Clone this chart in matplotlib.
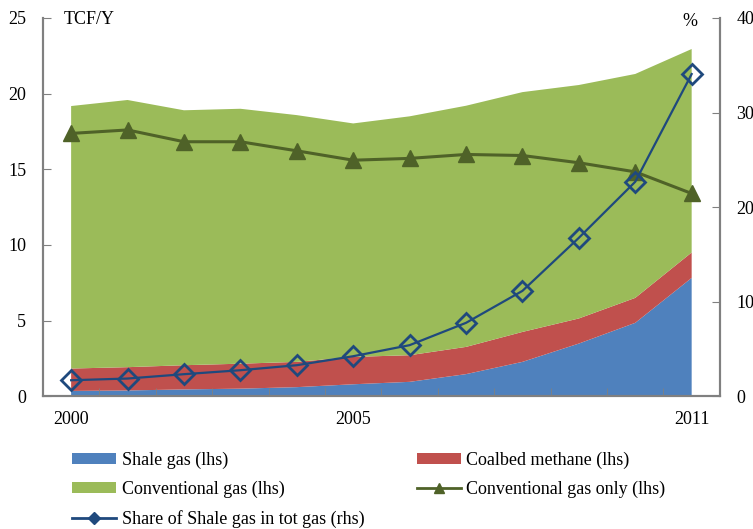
import matplotlib.pyplot as plt
import numpy as np
from matplotlib.ticker import FixedLocator, NullFormatter
from matplotlib.patches import Patch
from matplotlib.lines import Line2D

plt.rcParams['font.family'] = ['Liberation Serif', 'DejaVu Serif']

years = [2000, 2001, 2002, 2003, 2004, 2005, 2006, 2007, 2008, 2009, 2010, 2011]
shale = [0.35, 0.38, 0.45, 0.50, 0.60, 0.79, 0.95, 1.46, 2.27, 3.48, 4.85, 7.82]
coalbed = [1.48, 1.54, 1.60, 1.65, 1.67, 1.81, 1.76, 1.80, 1.98, 1.66, 1.65, 1.68]
conventional = [17.35, 17.66, 16.85, 16.85, 16.31, 15.43, 15.79, 15.94, 15.85, 15.43, 14.80, 13.45]
conv_only = [17.37, 17.60, 16.82, 16.82, 16.22, 15.60, 15.72, 15.98, 15.91, 15.43, 14.83, 13.40]
share = [1.69, 1.87, 2.33, 2.75, 3.28, 4.23, 5.40, 7.76, 11.14, 16.75, 22.68, 34.07]
tick_years = [2000, 2005, 2011]

c_blue = '#4F81BD'
c_red = '#C0504D'
c_green = '#9BBB59'
c_dkgreen = '#4F6228'
c_navy = '#1F497D'
c_spine = '#808080'

x = np.arange(len(years))
fs = 13

fig = plt.figure(figsize=(7.53, 5.29), dpi=100)
ax = fig.add_axes([0.057, 0.251, 0.899, 0.715])
ax2 = ax.twinx()

ax.stackplot(x, shale, coalbed, conventional, colors=[c_blue, c_red, c_green], lw=0)
ax.plot(x, conv_only, color=c_dkgreen, lw=2.2, marker='^', ms=11)
ax2.plot(x, share, color=c_navy, lw=1.6, marker='D', ms=10, mfc='none', mew=2)

ax.set_xlim(-0.5, len(years) - 0.5)
ax.set_ylim(0, 25)
ax2.set_ylim(0, 40)
ax.set_yticks([0, 5, 10, 15, 20, 25])
ax2.set_yticks([0, 10, 20, 30, 40])

ax.set_xticks([years.index(y) for y in tick_years])
ax.set_xticklabels([str(y) for y in tick_years])
ax.xaxis.set_minor_locator(FixedLocator(x[:-1] + 0.5))
ax.xaxis.set_minor_formatter(NullFormatter())
ax.tick_params(axis='x', which='major', length=0, pad=11, labelsize=fs)
ax.tick_params(axis='x', which='minor', direction='in', length=6, color=c_spine)
ax.tick_params(axis='y', direction='in', length=6, color=c_spine, pad=12, labelsize=fs)
ax2.tick_params(axis='y', direction='in', length=6, color=c_spine, pad=12, labelsize=fs)

for a in (ax, ax2):
    a.spines['top'].set_visible(False)
    for s in ('left', 'right', 'bottom'):
        a.spines[s].set_color(c_spine)
        a.spines[s].set_linewidth(1.5)

ax.text(0.03, 0.995, 'TCF/Y', transform=ax.transAxes, fontsize=fs, va='center', ha='left')
ax.text(0.955, 0.99, '%', transform=ax.transAxes, fontsize=fs, va='center', ha='center')

handles = [
    Patch(facecolor=c_blue, label='Shale gas (lhs)'),
    Patch(facecolor=c_green, label='Conventional gas (lhs)'),
    Line2D([], [], color=c_navy, lw=2, marker='D', ms=6, label='Share of Shale gas in tot gas (rhs)'),
    Patch(facecolor=c_red, label='Coalbed methane (lhs)'),
    Line2D([], [], color=c_dkgreen, lw=2, marker='^', ms=7, label='Conventional gas only (lhs)'),
]
fig.legend(handles=handles, ncol=2, loc='upper left', bbox_to_anchor=(0.0956, 0.147),
           frameon=False, fontsize=fs, handlelength=2.45, handleheight=0.55,
           handletextpad=0.3, columnspacing=2.9, labelspacing=0.68, borderaxespad=0,
           borderpad=0)

fig.savefig('out.png', dpi=100)
